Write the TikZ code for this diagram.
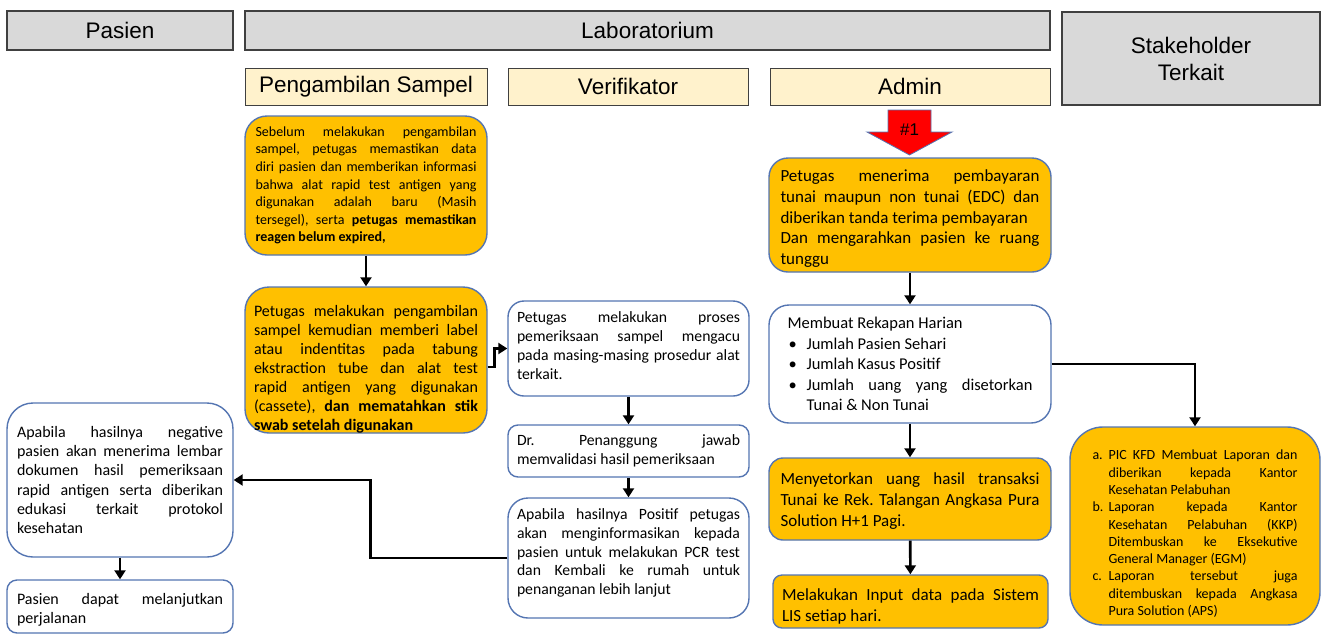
\documentclass[tikz,border=0pt]{standalone}
\usepackage{fontspec}
\setmainfont{Carlito}
\newfontfamily\headfont{Liberation Sans}
\usetikzlibrary{positioning,arrows.meta}
\definecolor{colHead}{RGB}{217,217,217}
\definecolor{colSub}{RGB}{255,242,204}
\definecolor{colOrange}{RGB}{255,192,0}
\definecolor{colEdge}{RGB}{84,117,178}
\definecolor{colLine}{RGB}{64,64,64}
\definecolor{colMark}{RGB}{255,0,0}
\newenvironment{itemlist}[1]{%
  \begin{list}{}{\setlength{\leftmargin}{#1}\setlength{\labelwidth}{#1}\setlength{\labelsep}{0pt}%
    \setlength{\itemsep}{0pt}\setlength{\parsep}{0pt}\setlength{\topsep}{0pt}\setlength{\partopsep}{0pt}%
    \renewcommand{\makelabel}[1]{##1\hfil}}}%
  {\end{list}}

\begin{document}
\begin{tikzpicture}[
    x=1pt, y=-1pt,
    every node/.style={text=black},
    headbox/.style={draw=colLine, line width=1.2pt, fill=colHead, align=center, font=\headfont\fontsize{22.5pt}{27pt}\selectfont},
    subbox/.style={draw=colLine, line width=1pt, fill=colSub, font=\headfont\fontsize{22.5pt}{27pt}\selectfont},
    box/.style={draw=colEdge, line width=1.4pt, align=justify, inner sep=0pt, execute at begin node=\frenchspacing},
    orangebox/.style={box, fill=colOrange},
    whitebox/.style={box, fill=white},
    txtsmall/.style={font=\fontsize{14pt}{17.6pt}\selectfont},
    txtmid/.style={font=\fontsize{15.7pt}{18.8pt}\selectfont},
    txtbig/.style={font=\fontsize{17pt}{20.7pt}\selectfont},
    conn/.style={line width=2.6pt, -{Triangle[length=9pt,width=11pt]}}
]
    \useasboundingbox (0,0) rectangle (1327,635);

    % lanes
    \node[headbox, minimum width=226pt, minimum height=39pt] (pasien) at (120,30.5) {Pasien};
    \node[headbox, minimum width=805pt, minimum height=39pt] (lab) at (647.5,30.5) {Laboratorium};
    \node[headbox, minimum width=258pt, minimum height=93pt] (stake) at (1191,58.5) {Stakeholder\\Terkait};
    \node[subbox, minimum width=242pt, minimum height=37pt] (sampel) at (366,86.5) {Pengambilan Sampel};
    \node[subbox, minimum width=240pt, minimum height=37pt] (verif) at (628,86.5) {Verifikator};
    \node[subbox, minimum width=280pt, minimum height=37pt] (admin) at (910,86.5) {Admin};

    % pengambilan sampel
    \node[orangebox, txtsmall, rounded corners=22pt, minimum width=242pt, minimum height=139pt, text width=221pt] (A1) at (366,185.5)
        {Sebelum melakukan pengambilan\linebreak sampel, petugas memastikan data\linebreak diri pasien dan memberikan informasi\linebreak bahwa alat rapid test antigen yang\linebreak digunakan adalah baru (Masih\linebreak tersegel), serta \textbf{petugas memastikan\linebreak reagen belum expired,}};
    \node[orangebox, font=\fontsize{16pt}{19pt}\selectfont, text height=29pt, rounded corners=24pt, minimum width=242pt, minimum height=146pt, text width=224pt] (A2) at (366,360)
        {Petugas melakukan pengambilan\linebreak sampel kemudian memberi label\linebreak atau indentitas pada tabung\linebreak ekstraction tube dan alat test\linebreak rapid antigen yang digunakan\linebreak (cassete), \textbf{dan mematahkan stik\linebreak swab setelah digunakan}};

    % verifikator
    \node[whitebox, txtmid, text height=5pt, rounded corners=16pt, minimum width=241pt, minimum height=95pt, text width=223pt] (V1) at (628.5,348.5)
        {Petugas melakukan proses\linebreak pemeriksaan sampel mengacu\linebreak pada masing-masing prosedur alat\linebreak terkait.};
    \node[whitebox, txtmid, rounded corners=10pt, minimum width=241pt, minimum height=52pt, text width=223pt] (V2) at (628.5,451)
        {Dr. Penanggung jawab\linebreak memvalidasi hasil pemeriksaan};
    \node[whitebox, txtmid, text height=1pt, rounded corners=20pt, minimum width=241pt, minimum height=120pt, text width=223pt] (V3) at (628.5,558)
        {Apabila hasilnya Positif petugas\linebreak akan menginformasikan kepada\linebreak pasien untuk melakukan PCR test\linebreak dan Kembali ke rumah untuk\linebreak penanganan lebih lanjut};

    % pasien
    \node[whitebox, font=\fontsize{16pt}{19.2pt}\selectfont, rounded corners=26pt, minimum width=226pt, minimum height=154pt, text width=206pt] (P1) at (120,480)
        {Apabila hasilnya negative\linebreak pasien akan menerima lembar\linebreak dokumen hasil pemeriksaan\linebreak rapid antigen serta diberikan\linebreak edukasi terkait protokol\linebreak kesehatan};
    \node[whitebox, font=\fontsize{16pt}{19.2pt}\selectfont, text height=17pt, rounded corners=10pt, minimum width=226pt, minimum height=53pt, text width=206pt] (P2) at (120,606.5)
        {Pasien dapat melanjutkan\linebreak perjalanan};

    % admin
    \draw[fill=colMark, draw=colEdge, line width=0.8pt] (888,110) -- (931,110) -- (931,132) -- (952,132) -- (909.5,155) -- (867,132) -- (888,132) -- cycle;
    \node[font=\headfont\fontsize{17pt}{20pt}\selectfont] (mark) at (909.5,130) {\#1};
    \node[orangebox, txtbig, text height=19pt, rounded corners=19pt, minimum width=282pt, minimum height=114pt, text width=259pt] (Ad1) at (910,215)
        {Petugas menerima pembayaran\linebreak tunai maupun non tunai (EDC) dan\linebreak diberikan tanda terima pembayaran\par Dan mengarahkan pasien ke ruang\linebreak tunggu};
    \node[whitebox, font=\fontsize{16.5pt}{20.5pt}\selectfont, rounded corners=20pt, minimum width=282pt, minimum height=118pt, text width=245pt] (Ad2) at (910,364)
        {Membuat Rekapan Harian
         \begin{itemlist}{19pt}
           \item[\hspace{1pt}\textbullet] Jumlah Pasien Sehari
           \item[\hspace{1pt}\textbullet] Jumlah Kasus Positif
           \item[\hspace{1pt}\textbullet] Jumlah uang yang disetorkan\linebreak Tunai \& Non Tunai
         \end{itemlist}};
    \node[orangebox, txtbig, text height=16pt, rounded corners=14pt, minimum width=282pt, minimum height=82pt, text width=259pt] (Ad3) at (910,499)
        {Menyetorkan uang hasil transaksi\linebreak Tunai ke Rek. Talangan Angkasa Pura\linebreak Solution H+1 Pagi.};
    \node[orangebox, txtbig, text height=22pt, rounded corners=9pt, minimum width=275pt, minimum height=53pt, text width=257pt] (Ad4) at (910.5,601.5)
        {Melakukan Input data pada Sistem\linebreak LIS setiap hari.};

    % stakeholder
    \node[orangebox, font=\fontsize{14pt}{17.3pt}\selectfont, text height=8pt, rounded corners=33pt, minimum width=250pt, minimum height=198pt, text width=205pt] (S1) at (1195,526)
        {\begin{itemlist}{16pt}
           \item[a.] PIC KFD Membuat Laporan dan\linebreak diberikan kepada Kantor\linebreak Kesehatan Pelabuhan
           \item[b.] Laporan kepada Kantor\linebreak Kesehatan Pelabuhan (KKP)\linebreak Ditembuskan ke Eksekutive\linebreak General Manager (EGM)
           \item[c.] Laporan tersebut juga\linebreak ditembuskan kepada Angkasa\linebreak Pura Solution (APS)
         \end{itemlist}};

    % flow
    \draw[conn] (A1) -- (A2);
    \draw[conn] ([yshift=-7pt]A2.east) -- ++(7,0) |- (V1.west);
    \draw[conn] (V1) -- (V2);
    \draw[conn] (V2) -- (V3);
    \draw[conn] (V3.west) -- ++(-137,0) |- (P1.east);
    \draw[conn] (P1) -- (P2);
    \draw[conn] (Ad1) -- (Ad2);
    \draw[conn] (Ad2) -- (Ad3);
    \draw[conn] (Ad3) -- (Ad4);
    \draw[conn] (Ad2.east) -| (S1.north);
\end{tikzpicture}
\end{document}
